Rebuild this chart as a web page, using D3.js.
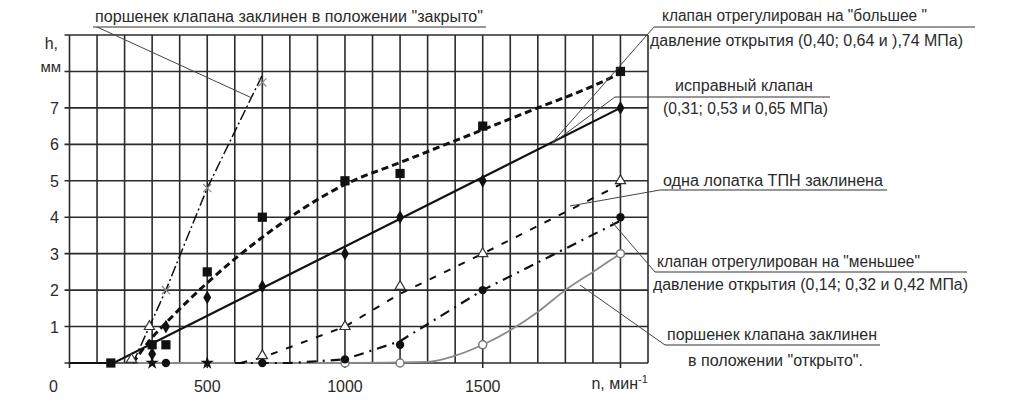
<!DOCTYPE html>
<html><head><meta charset="utf-8">
<script src="https://cdn.jsdelivr.net/npm/d3@7"></script>
<style>
html,body{margin:0;padding:0;background:#fff;}
svg text{font-family:"Liberation Sans",Arial,sans-serif;fill:#2a2a2a;}
</style></head>
<body><svg id="c" width="1024" height="406"></svg>
<script>
// ---- data ----
const xTicks = [0, 500, 1000, 1500];
const yTicks = [1, 2, 3, 4, 5, 6, 7];
const yUnitLabel = ["h,", "мм"];
const xUnitLabel = "n, мин";

// поршенек заклинен "закрыто"
const closedLine = [[230,0],[350,2.0],[500,4.8],[700,7.9]];
const closedPts  = [[350,2.0],[500,4.8],[700,7.7]];
// клапан "большее"
const higherLine = [[230,0],[300,0.7],[350,1.1],[500,2.2],[700,3.45],[1000,4.9],[1200,5.5],[1500,6.4],[1700,7.0],[1900,7.6],[2000,7.95]];
const higherPts  = [[150,0],[300,0.5],[350,0.5],[500,2.5],[700,4.0],[1000,5.0],[1200,5.2],[1500,6.5],[2000,8.0]];
// исправный клапан
const normalLine = [[0,0],[160,0],[2000,7.0]];
const normalPts  = [[300,0.25],[350,1.0],[500,1.8],[700,2.1],[1000,3.0],[1200,4.0],[1500,5.0],[2000,7.0]];
// одна лопатка ТПН заклинена
const bladeLine = [[620,0],[700,0.15],[1000,1.0],[1200,1.9],[1500,3.0],[2000,4.9]];
const bladePts  = [[225,0.1],[290,1.0],[700,0.2],[1000,1.0],[1200,2.1],[1500,3.0],[2000,5.0]];
// клапан "меньшее"
const lowerLine = [[600,0],[800,0],[1000,0.1],[1200,0.6],[1500,2.0],[2000,3.9]];
const lowerPts  = [[350,0],[700,0],[1000,0.1],[1200,0.5],[1500,2.0],[2000,4.0]];
// поршенек заклинен "открыто"
const openLine = [[250,0],[1000,0],[1300,0.03],[1400,0.2],[1500,0.5],[1600,0.9],[1700,1.4],[1800,2.0],[1900,2.5],[2000,3.0]];
const openPts  = [[1000,0],[1200,0],[1500,0.5],[2000,3.0]];
// прочие точки на нуле
const zeroStars = [[300,0],[500,0]];

// annotations
const noteText = [
  ["поршенек клапана заклинен в положении \"закрыто\""],
  ["клапан отрегулирован на \"большее \"","давление открытия (0,40; 0,64 и ),74 МПа)"],
  ["исправный клапан","(0,31; 0,53 и 0,65 МПа)"],
  ["одна лопатка ТПН заклинена"],
  ["клапан отрегулирован на \"меньшее\"","давление открытия (0,14; 0,32 и 0,42 МПа)"],
  ["поршенек клапана заклинен","в положении  \"открыто\"."]
];
const noteLayout = [
  {cx:[289], w:[388], base:[22], ul:[93,486,27], leader:[[97,27],[252,98]]},
  {cx:[794.5,806.5], w:[265,313], base:[21,46], ul:[654,975,27], leader:[[654,27],[552,143]]},
  {cx:[744,745.5], w:[138,165], base:[91,114], ul:[615,830,97], leader:[[615,97],[553,143]]},
  {cx:[773], w:[220], base:[186], ul:[660,887,190], leader:[[660,190],[570,206]]},
  {cx:[788.5,810.5], w:[263,315], base:[267,290], ul:[655,967,272], leader:[[655,272],[612,222]]},
  {cx:[772,775.5], w:[210,175], base:[340,366], ul:[665,880,345], leader:[[665,345],[580,285]]}
];

// ---- chart ----
const svg = d3.select("#c");
const x = d3.scaleLinear().domain([0,2100]).range([69.5,648]);
const y = d3.scaleLinear().domain([0,9]).range([363,35]);
const gridCol = "#2b2b2b";

const g = svg.append("g");
// grid
g.selectAll(".vg").data(d3.range(0,2101,100)).join("line")
  .attr("x1",d=>x(d)).attr("x2",d=>x(d)).attr("y1",y(0)).attr("y2",y(9))
  .attr("stroke",gridCol).attr("stroke-width",1.6);
g.selectAll(".hg").data(d3.range(0,10,1)).join("line")
  .attr("x1",x(0)-5).attr("x2",x(2100)).attr("y1",d=>y(d)).attr("y2",d=>y(d))
  .attr("stroke",gridCol).attr("stroke-width",1.6);
// major x ticks below axis
g.selectAll(".xt").data([0,500,1000,1500,2000]).join("line")
  .attr("x1",d=>x(d)).attr("x2",d=>x(d)).attr("y1",y(0)).attr("y2",y(0)+5)
  .attr("stroke",gridCol).attr("stroke-width",1.6);

// tick labels
g.selectAll(".xl").data(xTicks).join("text")
  .attr("x",d=>d===0? x(d)-16 : x(d)).attr("y",392).attr("text-anchor","middle")
  .attr("font-size",16).text(d=>d);
const xl = g.append("text").attr("x",x(2000)-29).attr("y",389).attr("font-size",16).attr("text-anchor","start");
xl.append("tspan").text(xUnitLabel);
xl.append("tspan").attr("dy",-6).attr("font-size",11).text("-1");
g.selectAll(".yl").data(yTicks).join("text")
  .attr("x",59).attr("y",d=>y(d)+6).attr("text-anchor","end").attr("font-size",16).text(d=>d);
g.append("text").attr("x",58).attr("y",y(8.75)+5).attr("text-anchor","end").attr("font-size",16).text(yUnitLabel[0]);
g.append("text").attr("x",61).attr("y",y(8)+1).attr("text-anchor","end").attr("font-size",15).text(yUnitLabel[1]);

// lines
const line = d3.line().x(d=>x(d[0])).y(d=>y(d[1]));
const curve = d3.line().x(d=>x(d[0])).y(d=>y(d[1])).curve(d3.curveMonotoneX);
g.append("path").attr("d",curve(openLine)).attr("fill","none").attr("stroke","#8a8a8a").attr("stroke-width",1.8);
g.append("path").attr("d",line(closedLine)).attr("fill","none").attr("stroke","#111").attr("stroke-width",1.5).attr("stroke-dasharray","11,3,2,3");
g.append("path").attr("d",curve(higherLine)).attr("fill","none").attr("stroke","#111").attr("stroke-width",3).attr("stroke-dasharray","7,4");
g.append("path").attr("d",line(normalLine)).attr("fill","none").attr("stroke","#111").attr("stroke-width",2.2);
g.append("path").attr("d",line(bladeLine)).attr("fill","none").attr("stroke","#111").attr("stroke-width",2).attr("stroke-dasharray","7,9");
g.append("path").attr("d",line(lowerLine)).attr("fill","none").attr("stroke","#111").attr("stroke-width",2.2).attr("stroke-dasharray","10,6,2,6");

// markers
const sym = (type,size)=>d3.symbol().type(type).size(size)();
g.selectAll(".op").data(openPts).join("path").attr("d",sym(d3.symbolCircle,50))
  .attr("transform",d=>`translate(${x(d[0])},${y(d[1])})`).attr("fill","#fff").attr("stroke","#777").attr("stroke-width",1.5);
g.selectAll(".cp").data(closedPts).join("path").attr("d",sym(d3.symbolX,45))
  .attr("transform",d=>`translate(${x(d[0])},${y(d[1])})`).attr("fill","none").attr("stroke","#888").attr("stroke-width",1.2);
g.selectAll(".zs").data(zeroStars).join("path").attr("d",sym(d3.symbolStar,55))
  .attr("transform",d=>`translate(${x(d[0])},${y(d[1])})`).attr("fill","#111");
g.selectAll(".hp").data(higherPts).join("path").attr("d",sym(d3.symbolSquare,85))
  .attr("transform",d=>`translate(${x(d[0])},${y(d[1])})`).attr("fill","#111");
g.selectAll(".np").data(normalPts).join("path").attr("d",sym(d3.symbolDiamond,55))
  .attr("transform",d=>`translate(${x(d[0])},${y(d[1])})`).attr("fill","#111");
g.selectAll(".bp").data(bladePts).join("path").attr("d",sym(d3.symbolTriangle,45))
  .attr("transform",d=>`translate(${x(d[0])},${y(d[1])})`).attr("fill","#fff").attr("stroke","#333").attr("stroke-width",1.2);
g.selectAll(".lp").data(lowerPts).join("path").attr("d",sym(d3.symbolCircle,55))
  .attr("transform",d=>`translate(${x(d[0])},${y(d[1])})`).attr("fill","#111");

// annotations
noteText.forEach((lines,k)=>{
  const n = noteLayout[k];
  lines.forEach((t,i)=>{
    g.append("text").attr("x",n.cx[i]).attr("y",n.base[i]).attr("text-anchor","middle").attr("font-size",16)
      .attr("textLength",n.w[i]).attr("lengthAdjust","spacingAndGlyphs").text(t);
  });
  g.append("line").attr("x1",n.ul[0]).attr("x2",n.ul[1]).attr("y1",n.ul[2]).attr("y2",n.ul[2]).attr("stroke","#333").attr("stroke-width",1.2);
  g.append("line").attr("x1",n.leader[0][0]).attr("y1",n.leader[0][1]).attr("x2",n.leader[1][0]).attr("y2",n.leader[1][1]).attr("stroke","#444").attr("stroke-width",1);
});
</script></body></html>
